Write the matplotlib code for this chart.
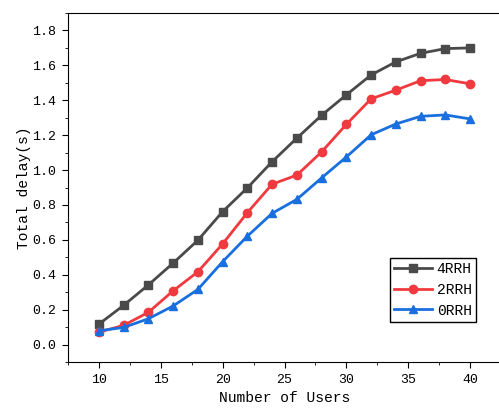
import matplotlib
matplotlib.use('Agg')
import matplotlib.pyplot as plt
from matplotlib.ticker import MultipleLocator

# Data
users = [10, 12, 14, 16, 18, 20, 22, 24, 26, 28, 30, 32, 34, 36, 38, 40]
rrh4 = [0.117, 0.225, 0.342, 0.467, 0.598, 0.762, 0.898, 1.048, 1.183, 1.314,
        1.431, 1.545, 1.620, 1.669, 1.696, 1.700]
rrh2 = [0.071, 0.110, 0.185, 0.308, 0.417, 0.577, 0.756, 0.919, 0.971, 1.104,
        1.262, 1.408, 1.458, 1.512, 1.519, 1.494]
rrh0 = [0.079, 0.098, 0.148, 0.221, 0.316, 0.475, 0.621, 0.752, 0.832, 0.955,
        1.075, 1.202, 1.264, 1.308, 1.316, 1.293]
labels = ['4RRH', '2RRH', '0RRH']

plt.rcParams['font.family'] = ['Liberation Mono', 'DejaVu Sans Mono']

fig = plt.figure(figsize=(4.99, 4.13), dpi=100)
ax = fig.add_axes([0.1363, 0.1235, 0.8677, 0.845])

ax.plot(users, rrh4, color='#4a4a4a', marker='s', markersize=5.5, lw=2, label=labels[0])
ax.plot(users, rrh2, color='#f03a3f', marker='o', markersize=6, lw=2, label=labels[1])
ax.plot(users, rrh0, color='#1a6fdf', marker='^', markersize=6, lw=2, label=labels[2])

ax.set_xlim(7.5, 42.5)
ax.set_ylim(-0.1, 1.9)
ax.xaxis.set_major_locator(MultipleLocator(5))
ax.xaxis.set_minor_locator(MultipleLocator(2.5))
ax.yaxis.set_major_locator(MultipleLocator(0.2))
ax.yaxis.set_minor_locator(MultipleLocator(0.1))
ax.yaxis.set_major_formatter(plt.FormatStrFormatter('%.1f'))
ax.tick_params(which='both', direction='out', top=False, right=False, labelsize=9.5)
ax.tick_params(which='major', length=4.3, pad=4)
ax.tick_params(which='minor', length=2.5)
ax.spines['right'].set_visible(False)

ax.set_xlabel('Number of Users', fontsize=10.5, labelpad=4)
ax.set_ylabel('Total delay(s)', fontsize=10.5, labelpad=1)

leg = ax.legend(loc='upper left', bbox_to_anchor=(0.7816, 0.3753), bbox_transform=fig.transFigure,
                fancybox=False, edgecolor='black', framealpha=1, fontsize=10.5,
                handlelength=2.6, borderpad=0.3, labelspacing=0.45, handletextpad=0.3,
                borderaxespad=0)
leg.get_frame().set_linewidth(1)

fig.savefig('out.png', dpi=100)
